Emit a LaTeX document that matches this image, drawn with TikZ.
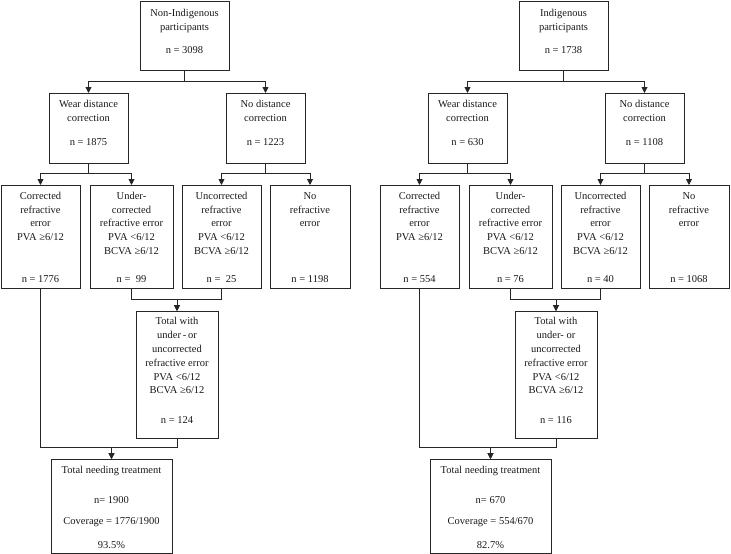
\documentclass[tikz,border=0pt]{standalone}
\usepackage{fontspec}
\setmainfont{Liberation Serif}
\usetikzlibrary{arrows.meta}
\newcommand\tp{\rule{0pt}{10pt}}
\begin{document}
\begin{tikzpicture}[x=1pt,y=-1pt,
  box/.style={draw=black!85, line width=0.9pt, inner sep=0pt, outer sep=0pt},
  txt/.style={anchor=north, align=center, inner sep=0pt, font=\fontsize{10.5}{13.8}\selectfont, text=black!90},
  arr/.style={draw=black!85, line width=0.9pt, -{Triangle[width=6pt,length=6pt]}}]
\useasboundingbox (0,0) rectangle (731,554);

% ---------------- left panel ----------------
\node[box, minimum width=89pt, minimum height=69pt]  (A)  at (184.5,35.5) {};
\node[box, minimum width=79pt, minimum height=70pt]  (B)  at (88.5,128) {};
\node[box, minimum width=79pt, minimum height=70pt]  (C)  at (265.5,128) {};
\node[box, minimum width=79pt, minimum height=103pt] (D1) at (40.5,236.5) {};
\node[box, minimum width=83pt, minimum height=103pt] (D2) at (131.5,236.5) {};
\node[box, minimum width=79pt, minimum height=103pt] (D3) at (221.5,236.5) {};
\node[box, minimum width=80pt, minimum height=103pt] (D4) at (310,236.5) {};
\node[box, minimum width=82pt, minimum height=127pt] (E)  at (177,374.5) {};
\node[box, minimum width=121pt, minimum height=94pt] (F)  at (111.5,506) {};

\node[txt] (At)  at ([yshift=-5.7pt]A.north)  {\tp Non-Indigenous\\participants\\[8.5pt]n = 3098};
\node[txt] (Bt)  at ([yshift=-4.5pt]B.north)  {\tp Wear distance\\correction\\[10pt]n = 1875};
\node[txt] (Ct)  at ([yshift=-4.5pt]C.north)  {\tp No distance\\correction\\[10pt]n = 1223};
\node[txt] (D1t) at ([yshift=-4pt]D1.north) {\tp Corrected\\refractive\\error\\PVA ≥6/12\\[27.6pt]n = 1776};
\node[txt] (D2t) at ([yshift=-4pt]D2.north) {\tp Under-\\corrected\\refractive error\\PVA <6/12\\BCVA ≥6/12\\[13.8pt]n = ~99};
\node[txt] (D3t) at ([yshift=-4pt]D3.north) {\tp Uncorrected\\refractive\\error\\PVA <6/12\\BCVA ≥6/12\\[13.8pt]n = ~25};
\node[txt] (D4t) at ([yshift=-4pt]D4.north) {\tp No\\refractive\\error\\[41.4pt]n = 1198};
\node[txt] (Et)  at ([yshift=-3.7pt]E.north)  {\tp Total with\\under\,-\,or\\uncorrected\\refractive error\\PVA <6/12\\BCVA ≥6/12\\[15.3pt]n = 124};
\node[txt] (Ft)  at ([yshift=-4.4pt]F.north)  {\tp Total needing treatment\\[15.6pt]n= 1900\\[7.4pt]Coverage = 1776/1900\\[10pt]93.5\%};

\draw[arr] (A.south) -- ++(0,11) -| (B.north);
\draw[arr] (A.south) -- ++(0,11) -| (C.north);
\draw[arr] (B.south) -- ++(0,10) -| (D1.north);
\draw[arr] (B.south) -- ++(0,10) -| (D2.north);
\draw[arr] (C.south) -- ++(0,10) -| (D3.north);
\draw[arr] (C.south) -- ++(0,10) -| (D4.north);
\draw[arr] (D2.south) -- ++(0,11) -| (E.north);
\draw[arr] (D3.south) -- ++(0,11) -| (E.north);
\coordinate (J) at ([yshift=-9pt]E.south);
\draw[arr] (E.south) -- (J) -| (F.north);
\draw[arr] (D1.south) -- (D1.south |- J) -| (F.north);

% ---------------- right panel ----------------
\begin{scope}[xshift=379pt]
\node[box, minimum width=89pt, minimum height=69pt]  (rA)  at (184.5,35.5) {};
\node[box, minimum width=79pt, minimum height=70pt]  (rB)  at (88.5,128) {};
\node[box, minimum width=79pt, minimum height=70pt]  (rC)  at (265.5,128) {};
\node[box, minimum width=79pt, minimum height=103pt] (rD1) at (40.5,236.5) {};
\node[box, minimum width=83pt, minimum height=103pt] (rD2) at (131.5,236.5) {};
\node[box, minimum width=79pt, minimum height=103pt] (rD3) at (221.5,236.5) {};
\node[box, minimum width=80pt, minimum height=103pt] (rD4) at (310,236.5) {};
\node[box, minimum width=82pt, minimum height=127pt] (rE)  at (177,374.5) {};
\node[box, minimum width=121pt, minimum height=94pt] (rF)  at (111.5,506) {};

\node[txt] (rAt)  at ([yshift=-5.7pt]rA.north)  {\tp Indigenous\\participants\\[8.5pt]n = 1738};
\node[txt] (rBt)  at ([yshift=-4.5pt]rB.north)  {\tp Wear distance\\correction\\[10pt]n = 630};
\node[txt] (rCt)  at ([yshift=-4.5pt]rC.north)  {\tp No distance\\correction\\[10pt]n = 1108};
\node[txt] (rD1t) at ([yshift=-4pt]rD1.north) {\tp Corrected\\refractive\\error\\PVA ≥6/12\\[27.6pt]n = 554};
\node[txt] (rD2t) at ([yshift=-4pt]rD2.north) {\tp Under-\\corrected\\refractive error\\PVA <6/12\\BCVA ≥6/12\\[13.8pt]n = 76};
\node[txt] (rD3t) at ([yshift=-4pt]rD3.north) {\tp Uncorrected\\refractive\\error\\PVA <6/12\\BCVA ≥6/12\\[13.8pt]n = 40};
\node[txt] (rD4t) at ([yshift=-4pt]rD4.north) {\tp No\\refractive\\error\\[41.4pt]n = 1068};
\node[txt] (rEt)  at ([yshift=-3.7pt]rE.north)  {\tp Total with\\under- or\\uncorrected\\refractive error\\PVA <6/12\\BCVA ≥6/12\\[15.3pt]n = 116};
\node[txt] (rFt)  at ([yshift=-4.4pt]rF.north)  {\tp Total needing treatment\\[15.6pt]n= 670\\[7.4pt]Coverage = 554/670\\[10pt]82.7\%};

\draw[arr] (rA.south) -- ++(0,11) -| (rB.north);
\draw[arr] (rA.south) -- ++(0,11) -| (rC.north);
\draw[arr] (rB.south) -- ++(0,10) -| (rD1.north);
\draw[arr] (rB.south) -- ++(0,10) -| (rD2.north);
\draw[arr] (rC.south) -- ++(0,10) -| (rD3.north);
\draw[arr] (rC.south) -- ++(0,10) -| (rD4.north);
\draw[arr] (rD2.south) -- ++(0,11) -| (rE.north);
\draw[arr] (rD3.south) -- ++(0,11) -| (rE.north);
\coordinate (rJ) at ([yshift=-9pt]rE.south);
\draw[arr] (rE.south) -- (rJ) -| (rF.north);
\draw[arr] (rD1.south) -- (rD1.south |- rJ) -| (rF.north);
\end{scope}
\end{tikzpicture}
\end{document}
